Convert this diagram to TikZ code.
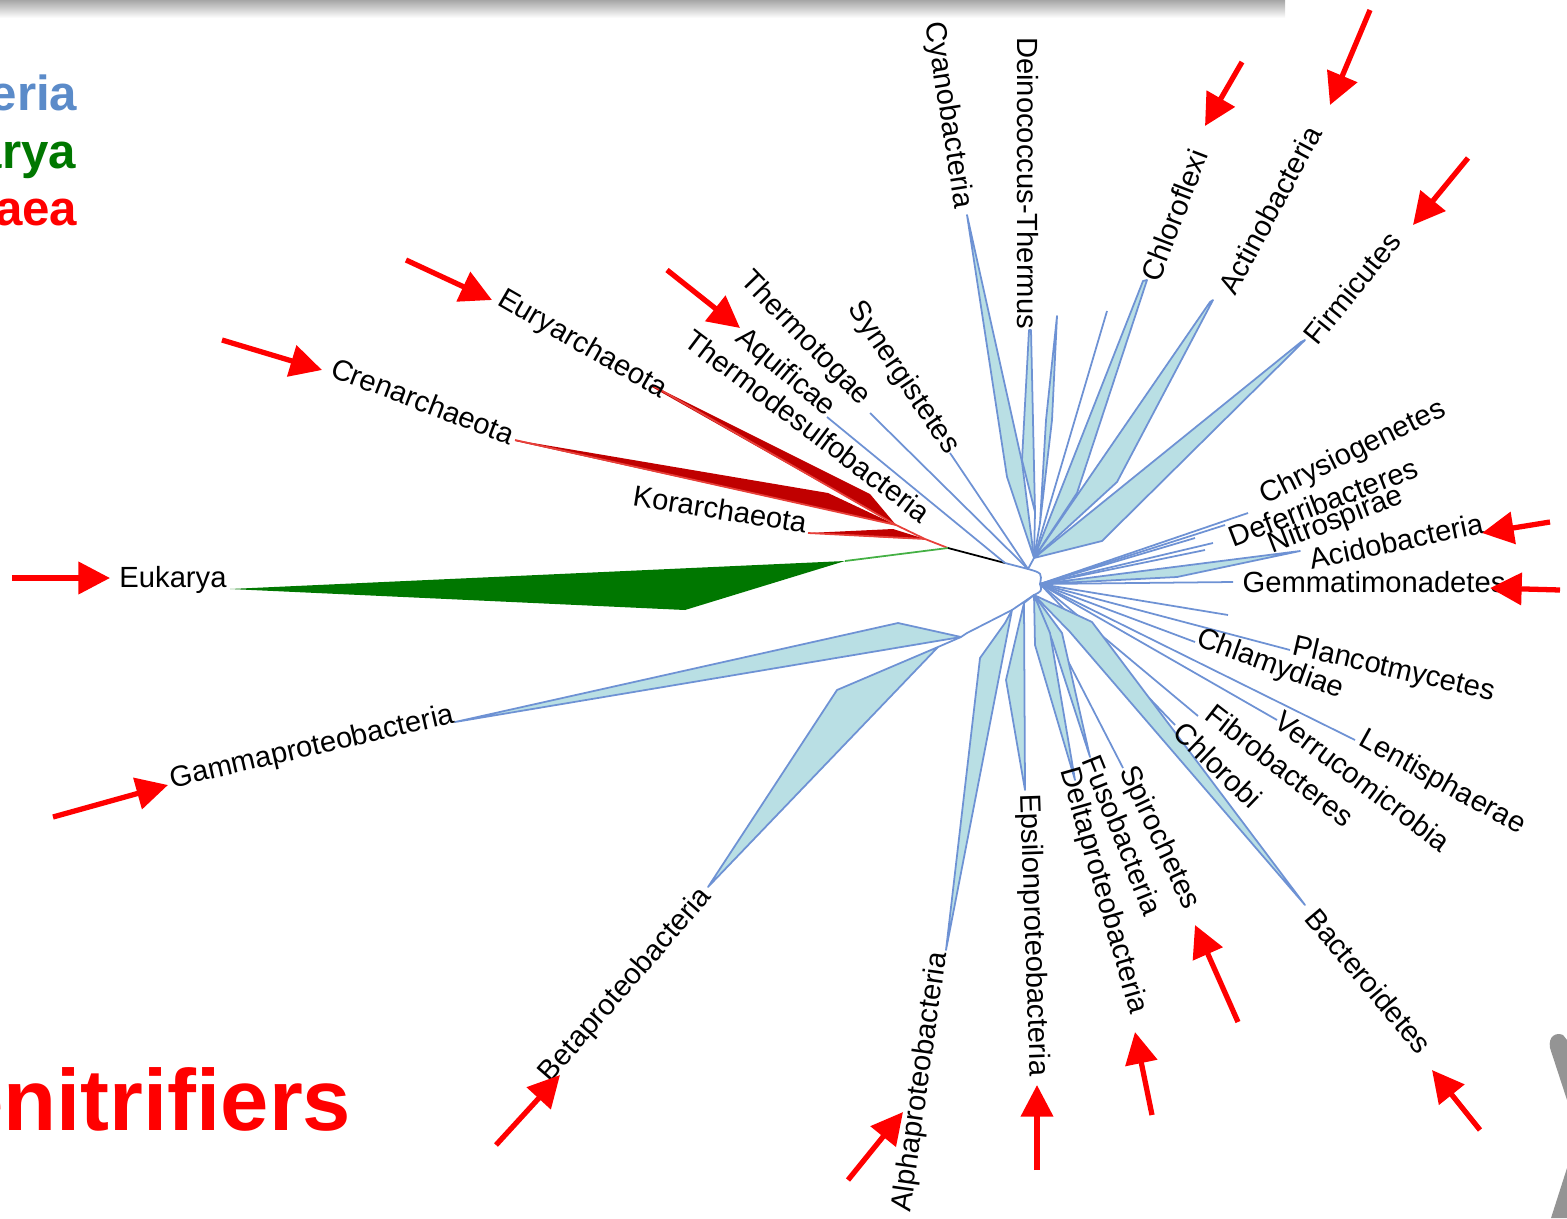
\documentclass[tikz,border=0pt]{standalone}
\usepackage{fontspec}
\setmainfont{Liberation Sans}
\usetikzlibrary{arrows.meta}
\definecolor{bactblue}{HTML}{6E92D4}
\definecolor{bactfill}{HTML}{B9DFE4}
\definecolor{archred}{HTML}{C00000}
\definecolor{archlink}{HTML}{E8403A}
\definecolor{eukgreen}{HTML}{007700}
\definecolor{euklink}{HTML}{44B044}
\definecolor{legblue}{HTML}{5B8BC9}
\definecolor{legred}{HTML}{FF0000}
\tikzset{
    tr line/.style={draw=bactblue, line width=0.5pt},
    tr clade/.style={draw=bactblue, fill=bactfill, line width=0.5pt, line join=round},
    tr arch/.style={fill=archred},
    tr alink/.style={draw=archlink, line width=0.5pt},
    tr lbl/.style={font=\fontsize{8.3}{10}\selectfont, inner sep=0pt},
    tr legend/.style={font=\fontsize{14}{16}\selectfont\bfseries, anchor=base east, inner sep=0pt},
    tr arrow/.style={draw=legred, line width=1.5pt, -{Triangle[length=9pt, width=9pt]}},
}

\begin{document}
\begin{tikzpicture}[x=0.01cm, y=-0.01cm]
    \useasboundingbox (0,0) rectangle (1567,1218);
    \clip (0,0) rectangle (1567,1218);
    % slide shadow and logo
    \shade[top color=black!35, bottom color=white] (0,0) rectangle (1285,18);
    \fill[black!42] (1550,1048) .. controls (1548,1036) and (1556,1032) .. (1563,1035)
        -- (1567,1040) -- (1567,1100) -- cycle;
    \fill[black!42] (1551,1218) -- (1567,1168) -- (1567,1218) -- cycle;

    % Legend
    \node[tr legend, text=legblue] (lbact) at (78,110) {Bacteria};
    \node[tr legend, text=eukgreen] (leuk) at (77,168) {Eukarya};
    \node[tr legend, text=legred] (larch) at (78,225) {Archaea};
    \node[font=\fontsize{24.7}{28}\selectfont\bfseries, text=legred, anchor=base east,
        inner sep=0pt] (denit) at (352,1130) {Denitrifiers};

    % Inner nodes
    \coordinate (root) at (1005,563);
    \coordinate (split) at (948,548);
    \coordinate (arc) at (925,539);
    \coordinate (arcb) at (896,525);
    \coordinate (eukb) at (845,561);
    \coordinate (top) at (1028,569);
    \coordinate (topb) at (1034,558);
    \coordinate (rgt) at (1040,584);
    \coordinate (bot) at (1034,595);
    \coordinate (prot) at (1012,610);
    \coordinate (protb) at (961,637);
    \coordinate (betab) at (938,647);

    % Archaea and Eukarya
    \fill[tr arch] (652,385) -- (870,494) -- (arcb) -- (652,387) -- cycle;
    \fill[tr arch] (515,440) -- (828,493) -- (arcb) -- (515,441) -- cycle;
    \fill[tr arch] (808,533) -- (893,529) -- (arc) -- (893,538) -- cycle;
    \draw[tr alink] (652,385) -- (arcb) -- (arc) -- (split);
    \draw[tr alink] (515,440) -- (arcb);
    \draw[tr alink] (808,533) -- (arc);
    \draw[euklink, line width=0.5pt] (split) -- (eukb);
    \fill[eukgreen] (eukb) -- (230,589) -- (685,610) -- cycle;
    \draw[black, line width=0.5pt] (split) -- (root);
    \draw[tr line] (root) -- (top);

    % Bacteria, upper fan
    \foreach \x/\y/\b in {870/413/top, 827/417/root, 950/453/top, 1107/311/topb}
        \draw[tr line] (\x,\y) -- (\b);
    \draw[tr clade] (967,215) -- (1022,462) -- (topb) -- (1007,477) -- cycle;
    \draw[tr clade] (1029,330) -- (1022,460) -- (1035,512) -- (1031,330) -- cycle;
    \draw[tr clade] (1057,316) -- (1046,420) -- (1040,523) -- (1052,420) -- cycle;
    \draw[tr line] (1035,512) -- (topb);
    \draw[tr line] (1040,523) -- (topb);
    \draw[tr clade] (1147,280) -- (1077,493) -- (topb) -- (1143,281) -- cycle;
    \draw[tr clade] (1213,300) -- (1117,482) -- (topb) -- (1210,302) -- cycle;
    \draw[tr clade] (1305,340) -- (1102,541) -- (topb) -- (1301,342) -- cycle;
    \draw[tr line] (topb) -- (top);
    \draw[tr line] (top) .. controls (1042,573) .. (rgt) .. controls (1042,591) .. (bot);

    % Bacteria, right fan
    \draw[tr clade] (rgt) -- (1300,551) -- (1177,577) -- cycle;
    \foreach \x/\y in {1248/513, 1225/525, 1195/538, 1213/543, 1205/550, 1233/582,
                       1228/615, 1290/650, 1195/642, 1355/740, 1277/720, 1198/716, 1175/725}
        \draw[tr line] (rgt) -- (\x,\y);

    % Bacteria, lower fan
    \draw[tr clade] (bot) -- (1092,622) -- (1305,905) -- (1070,632) -- cycle;
    \draw[tr line] (bot) -- (1123,768);
    \draw[tr clade] (bot) -- (1062,633) -- (1090,757) -- (1052,640) -- cycle;
    \draw[tr clade] (bot) -- (1050,633) -- (1075,780) -- (1035,645) -- cycle;
    \draw[tr line] (bot) -- (1024,603);
    \draw[tr clade] (1024,603) -- (1025,790) -- (1006,680) -- cycle;
    \draw[tr line] (bot) -- (prot) -- (967,633) -- (protb);
    \draw[tr clade] (prot) -- (946,950) -- (980,658) -- (1005,623) -- cycle;
    \draw[tr clade] (protb) -- (455,722) -- (898,623) -- cycle;
    \draw[tr line] (protb) -- (betab);
    \draw[tr clade] (betab) -- (708,887) -- (837,690) -- cycle;

    % Labels
    \foreach \n/\x/\y/\a/\t in {
        cyano/948/115/-81/Cyanobacteria, deino/1028/183/-90/Deinococcus-Thermus,
        chlfx/1174/215/69/Chloroflexi, actino/1270/210/62/Actinobacteria,
        firmi/1352/288/51/Firmicutes, chrys/1353/453/26/Chrysiogenetes,
        defer/1323/502/21/Deferribacteres, nitro/1336/521/21/Nitrospirae,
        acido/1396/541/12/Acidobacteria, gemma/1374/582/0/Gemmatimonadetes,
        planc/1394/670/-13/Plancotmycetes, chlam/1270/665/-20/Chlamydiae,
        lenti/1442/783/-29/Lentisphaerae, verru/1363/781/-37/Verrucomicrobia,
        fibro/1280/765/-38/Fibrobacteres, chlrb/1218/765/-44/Chlorobi,
        bactd/1369/981/-50/Bacteroidetes, spiro/1159/838/-65/Spirochetes,
        fuso/1123/835/-68/Fusobacteria, delta/1103/891/-74/Deltaproteobacteria,
        epsil/1033/935/-88/Epsilonproteobacteria, alpha/921/1082/82/Alphaproteobacteria,
        beta/626/985/49/Betaproteobacteria, gamma/312/748/13/Gammaproteobacteria,
        euk/173/580/0/Eukarya, cren/423/401/-21/Crenarchaeota,
        eury/582/345/-30/Euryarchaeota, kor/720/509/-9/Korarchaeota,
        ttoga/805/339/-46/Thermotogae, aquif/785/373/-40/Aquificae,
        tdesu/808/426/-37/Thermodesulfobacteria, syner/903/378/-56/Synergistetes}
        \node[tr lbl, rotate=\a] (\n) at (\x,\y) {\t};

    % Arrows
    \foreach \n/\tx/\ty/\hx/\hy in {
        a1/1370/10/1330/105, a2/1242/62/1205/126, a3/1468/158/1413/225,
        a4/1550/522/1482/533, a5/1560/590/1490/588, a6/1480/1130/1432/1070,
        a7/1238/1022/1195/925, a8/1152/1115/1135/1032, a9/1037/1170/1037/1085,
        a10/848/1180/903/1112, a11/496/1145/560/1075, a12/53/817/168/785,
        a13/12/578/110/578, a14/222/340/322/370, a15/406/260/492/300,
        a16/667/270/740/328} {
        \coordinate (\n t) at (\tx,\ty);
        \coordinate (\n h) at (\hx,\hy);
        \draw[tr arrow] (\n t) -- (\n h);
    }
\end{tikzpicture}
\end{document}
